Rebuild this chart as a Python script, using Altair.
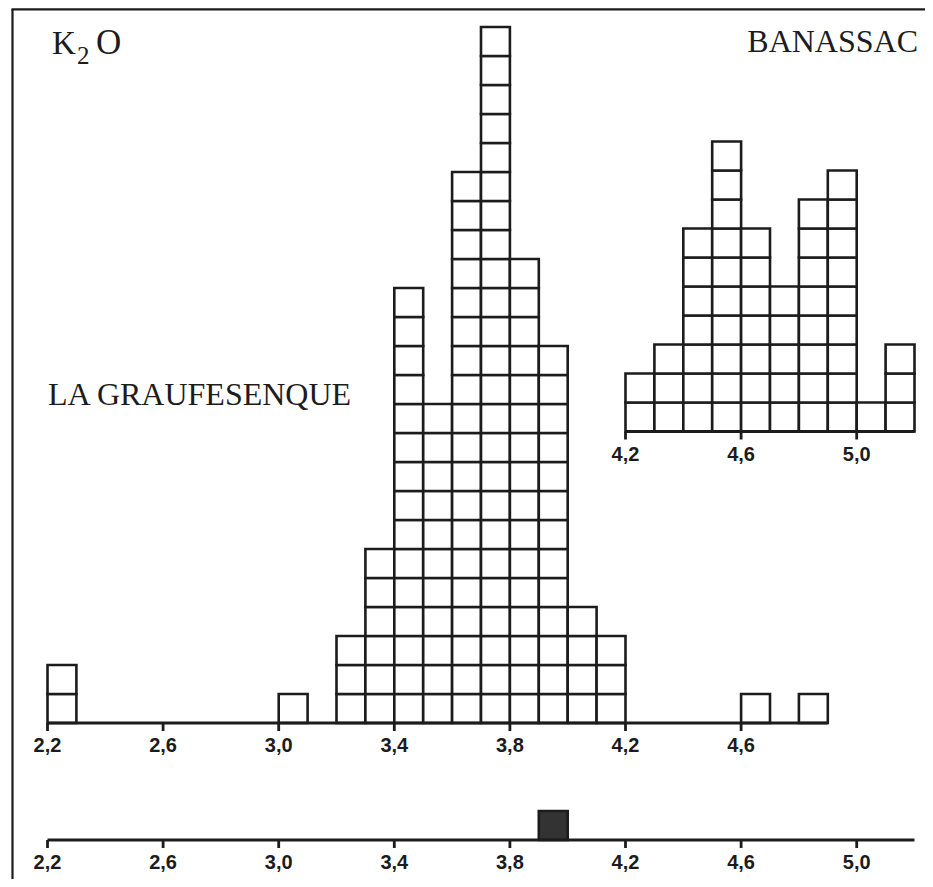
import altair as alt
import pandas as pd

# ---------------- data ----------------
lg_bins = [2.2, 3.0, 3.2, 3.3, 3.4, 3.5, 3.6, 3.7, 3.8, 3.9, 4.0, 4.1, 4.6, 4.8]
lg_counts = [2, 1, 3, 6, 15, 11, 19, 24, 16, 13, 4, 3, 1, 1]

ban_bins = [4.2, 4.3, 4.4, 4.5, 4.6, 4.7, 4.8, 4.9, 5.0, 5.1]
ban_counts = [2, 3, 7, 10, 7, 5, 8, 9, 1, 3]

mark_bins = [3.9]
mark_counts = [1]

main_ticks = [2.2, 2.6, 3.0, 3.4, 3.8, 4.2, 4.6]
inset_ticks = [4.2, 4.6, 5.0]
bottom_ticks = [2.2, 2.6, 3.0, 3.4, 3.8, 4.2, 4.6, 5.0]

main_extent = [2.2, 4.9]
inset_extent = [4.2, 5.2]
bottom_extent = [2.2, 5.2]

BIN = 0.1

# ---------------- layout ----------------
W, H = 917, 871
PXU = 289.0                      # px per K2O unit
X0 = 2.2 - (47.5 - 8) / PXU
X1 = X0 + W / PXU
SQ = 29.0                        # px per count
MAIN_PX = 715.0
Y1 = MAIN_PX / SQ
Y0 = (MAIN_PX - H) / SQ
MAIN_BASE = 0.0
INSET_BASE = (MAIN_PX - 423.5) / SQ
BOTTOM_BASE = (MAIN_PX - 832.0) / SQ
TICK = 8.0 / SQ

xs = alt.Scale(domain=[X0, X1], nice=False, zero=False)
ys = alt.Scale(domain=[Y0, Y1], nice=False, zero=False)

INK = "#1c1c1c"


def squares(bins, counts, base):
    rows = []
    for b, c in zip(bins, counts):
        for k in range(c):
            rows.append({"x": b, "x2": round(b + BIN, 3), "y": base + k, "y2": base + k + 1})
    return pd.DataFrame(rows)


def rect_layer(df, fill):
    return alt.Chart(df).mark_rect(fill=fill, stroke=INK, strokeWidth=2.6).encode(
        x=alt.X("x:Q", scale=xs, axis=None),
        x2="x2:Q",
        y=alt.Y("y:Q", scale=ys, axis=None),
        y2="y2:Q",
    )


def axis_layers(ticks, extent, base):
    line = alt.Chart(pd.DataFrame({"a": [extent[0]], "b": [extent[1]], "y": [base]})).mark_rule(
        color=INK, strokeWidth=2.8
    ).encode(
        x=alt.X("a:Q", scale=xs, axis=None), x2="b:Q", y=alt.Y("y:Q", scale=ys, axis=None)
    )
    tdf = pd.DataFrame({
        "v": ticks,
        "y": [base] * len(ticks),
        "y2": [base - TICK] * len(ticks),
        "lab": [f"{t:.1f}".replace(".", ",") for t in ticks],
    })
    tk = alt.Chart(tdf).mark_rule(color=INK, strokeWidth=2.8).encode(
        x=alt.X("v:Q", scale=xs, axis=None), y=alt.Y("y:Q", scale=ys, axis=None), y2="y2:Q"
    )
    lab = alt.Chart(tdf).mark_text(
        font="Liberation Sans", fontWeight="bold", fontSize=20, color=INK,
        align="center", baseline="alphabetic", dy=29,
    ).encode(
        x=alt.X("v:Q", scale=xs, axis=None), y=alt.Y("y:Q", scale=ys, axis=None), text="lab:N"
    )
    return [line, tk, lab]


def label(text, x, y, size, align="left"):
    return alt.Chart(pd.DataFrame({"t": [text]})).mark_text(
        font="Liberation Serif", fontSize=size, color=INK, align=align, baseline="alphabetic"
    ).encode(x=alt.value(x), y=alt.value(y), text="t:N")


frame_left = alt.Chart(pd.DataFrame({"d": [0]})).mark_rule(color=INK, strokeWidth=2.2).encode(
    x=alt.value(4.5), y=alt.value(1), y2=alt.value(H)
)
frame_top = alt.Chart(pd.DataFrame({"d": [0]})).mark_rule(color=INK, strokeWidth=2.2).encode(
    x=alt.value(3.5), x2=alt.value(W), y=alt.value(1.3)
)

layers = [frame_left, frame_top]
layers.append(rect_layer(squares(lg_bins, lg_counts, MAIN_BASE), "white"))
layers.append(rect_layer(squares(ban_bins, ban_counts, INSET_BASE), "white"))
layers.append(rect_layer(squares(mark_bins, mark_counts, BOTTOM_BASE), "#333333"))
layers += axis_layers(main_ticks, main_extent, MAIN_BASE)
layers += axis_layers(inset_ticks, inset_extent, INSET_BASE)
layers += axis_layers(bottom_ticks, bottom_extent, BOTTOM_BASE)

layers.append(label("K", 44, 46, 33))
layers.append(label("2", 69, 56, 25))
layers.append(label("O", 88, 46, 35))
layers.append(label("BANASSAC", 910, 44, 32, align="right"))
layers.append(label("LA GRAUFESENQUE", 40, 397, 32))

chart = alt.layer(*layers).properties(
    width=W, height=H, autosize=alt.AutoSizeParams(type="none"), padding=0, background="white"
).configure_view(stroke="transparent")

chart.save("out.html", embed_options={"renderer": "svg", "actions": False})
